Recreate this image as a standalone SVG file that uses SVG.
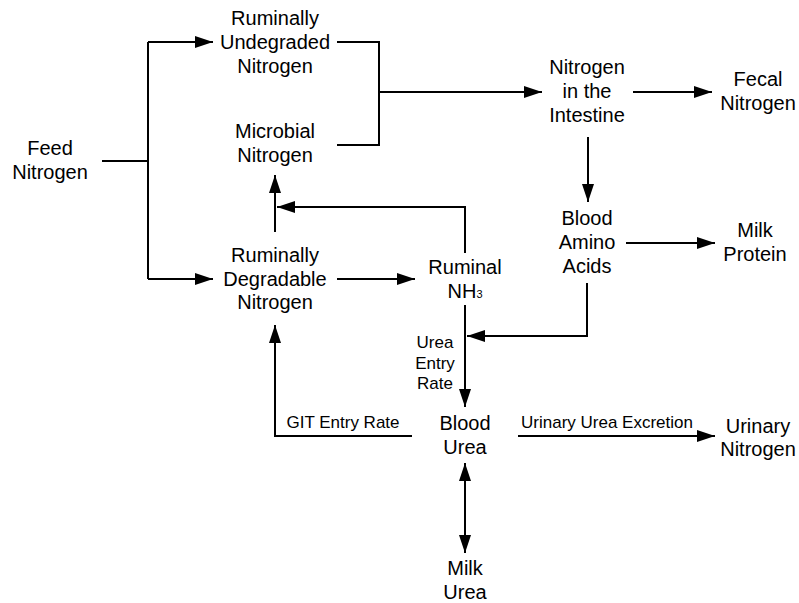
<svg xmlns="http://www.w3.org/2000/svg" width="799" height="603" viewBox="0 0 799 603">
<style>
text{font-family:"Liberation Sans",Arial,sans-serif;fill:#000;text-anchor:middle}
.n{font-size:20px}
.s{font-size:17px}
.c path{fill:none;stroke:#000;stroke-width:2}
.a{marker-end:url(#ah)}
</style>
<defs>
<marker id="ah" markerWidth="18" markerHeight="12" refX="18" refY="6" orient="auto-start-reverse" markerUnits="userSpaceOnUse"><path d="M0,0 L18,6 L0,12 z" fill="#000"/></marker>
</defs>
<rect width="799" height="603" fill="#fff"/>
<g id="feed"><text class="n" x="50" y="155">Feed</text><text class="n" x="50" y="179">Nitrogen</text></g>
<g id="undegraded"><text class="n" x="275" y="25">Ruminally</text><text class="n" x="275" y="49">Undegraded</text><text class="n" x="275" y="73">Nitrogen</text></g>
<g id="microbial"><text class="n" x="275" y="138">Microbial</text><text class="n" x="275" y="162">Nitrogen</text></g>
<g id="degradable"><text class="n" x="275" y="262">Ruminally</text><text class="n" x="275" y="286">Degradable</text><text class="n" x="275" y="309">Nitrogen</text></g>
<g id="nh3"><text class="n" x="465" y="274">Ruminal</text><text class="n" x="465" y="298">NH<tspan font-size="11">3</tspan></text></g>
<g id="intestine"><text class="n" x="587" y="74">Nitrogen</text><text class="n" x="587" y="98">in the</text><text class="n" x="587" y="122">Intestine</text></g>
<g id="fecal"><text class="n" x="758" y="86">Fecal</text><text class="n" x="758" y="110">Nitrogen</text></g>
<g id="amino"><text class="n" x="587" y="225">Blood</text><text class="n" x="587" y="249">Amino</text><text class="n" x="587" y="273">Acids</text></g>
<g id="milkprotein"><text class="n" x="755" y="237">Milk</text><text class="n" x="755" y="261">Protein</text></g>
<g id="bloodurea"><text class="n" x="465" y="430">Blood</text><text class="n" x="465" y="454">Urea</text></g>
<g id="urinary"><text class="n" x="758" y="433">Urinary</text><text class="n" x="758" y="456">Nitrogen</text></g>
<g id="milkurea"><text class="n" x="465" y="575">Milk</text><text class="n" x="465" y="599">Urea</text></g>
<g id="connectors" class="c">
<path d="M102,161 H148 M148,42 V279"/>
<path class="a" d="M148,42 H213"/>
<path class="a" d="M148,279 H213"/>
<path d="M337,42 H379 V145 H337"/>
<path class="a" d="M379,92 H542"/>
<path class="a" d="M633,92 H712"/>
<path class="a" d="M588,137 V202"/>
<path class="a" d="M626,243 H715"/>
<path class="a" d="M275,232 V175"/>
<path class="a" d="M465,253 V207 H277"/>
<path class="a" d="M337,279 H415"/>
<path class="a" d="M465,305 V407"/>
<path class="a" d="M587,283 V336 H467"/>
<path class="a" d="M412,436 H275 V325"/>
<path class="a" d="M518,436 H715"/>
<path class="a" d="M465,463 V553" marker-start="url(#ah)"/>
</g>
<g id="labels">
<text class="s" x="435" y="348">Urea</text><text class="s" x="435" y="369">Entry</text><text class="s" x="435" y="389">Rate</text>
<text class="s" x="343" y="428">GIT Entry Rate</text>
<text class="s" x="607" y="428">Urinary Urea Excretion</text>
</g>
</svg>
